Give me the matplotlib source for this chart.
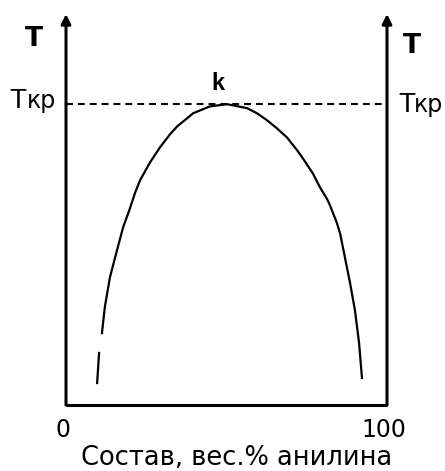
import matplotlib
matplotlib.use("Agg")
import matplotlib.pyplot as plt

plt.rcParams['font.family'] = ['DejaVu Sans']

# Кривая расслаивания (читано с рисунка), x - вес.% анилина, T - усл. единицы
tail_x = [9.7, 10.3]
tail_t = [7.3, 17.3]
curve_x = [11.2, 12.1, 13.7, 15.9, 17.8, 19.9, 21.5, 23.1, 26.2, 29.3, 32.4, 34.6,
           37.7, 39.6, 44.9, 50.2, 56.4, 59.5, 62.6, 65.7, 68.8, 72.0, 73.8, 76.9,
           79.1, 81.3, 82.2, 84.4, 85.4, 88.5, 90.0, 91.3, 92.2]
curve_t = [23.9, 32.6, 42.5, 51.5, 59.1, 65.3, 70.5, 74.8, 80.7, 85.7, 90.0, 92.6,
           95.3, 97.0, 99.3, 100.0, 98.7, 97.0, 94.7, 92.0, 89.0, 84.7, 82.0, 77.0,
           72.4, 68.5, 66.5, 60.5, 57.0, 40.5, 31.6, 20.6, 9.0]
t_crit = 100.0
x_ticks = [0, 100]
x_tick_labels = ['0', '100']
x_label = 'Состав, вес.% анилина'

fig = plt.figure(figsize=(4.45, 4.71), dpi=100)
ax = fig.add_axes([66 / 445, 66 / 471, 321 / 445, 391 / 471])
ax.set_xlim(0, 100)
ax.set_ylim(0, 130)
ax.axis('off')

# оси со стрелками
arrow = dict(arrowstyle='-|>', lw=2.2, color='black', mutation_scale=14, shrinkA=0, shrinkB=0)
ax.annotate('', xy=(0, 130), xytext=(0, 0), arrowprops=arrow, annotation_clip=False)
ax.annotate('', xy=(100, 130), xytext=(100, 0), arrowprops=arrow, annotation_clip=False)
ax.plot([0, 100], [0, 0], color='black', lw=2.2, solid_capstyle='butt', clip_on=False)

# критическая температура
ax.plot([0, 100], [t_crit, t_crit], color='black', lw=1.5, ls=(0, (3.3, 2.4)))

ax.plot(curve_x, curve_t, color='black', lw=1.6)
ax.plot(tail_x, tail_t, color='black', lw=1.6)

# подписи
ax.text(-10.0, 119.3, 'T', fontsize=19, fontweight='bold', ha='center', va='baseline')
ax.text(107.8, 116.9, 'T', fontsize=19, fontweight='bold', ha='center', va='baseline')
ax.text(-17.6, 98.7, 'T', fontsize=20, family='Liberation Sans', ha='left', va='baseline')
ax.text(-12.3, 98.7, 'кр', fontsize=17, ha='left', va='baseline')
ax.text(103.4, 97.3, 'T', fontsize=20, family='Liberation Sans', ha='left', va='baseline')
ax.text(108.5, 97.3, 'кр', fontsize=17, ha='left', va='baseline')
ax.text(47.4, 104.7, 'k', fontsize=17, fontweight='bold', family='Liberation Sans',
        ha='center', va='baseline')

for xt, lab in zip(x_ticks, x_tick_labels):
    ax.text(xt - 1.0, -10.6, lab, fontsize=17, ha='center', va='baseline')
ax.text(53.3, -19.9, x_label, fontsize=18.5, ha='center', va='baseline')

fig.savefig('out.png', dpi=100)
